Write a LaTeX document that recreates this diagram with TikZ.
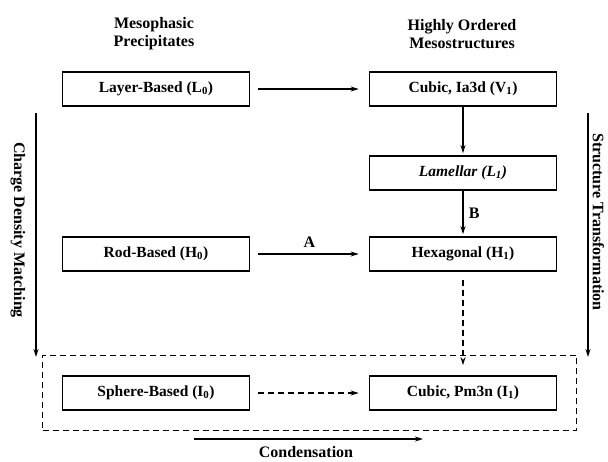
\documentclass[tikz,border=0pt]{standalone}
\usepackage{fontspec}
\setmainfont{Liberation Serif}
\usetikzlibrary{arrows.meta, positioning, fit}

\begin{document}
\begin{tikzpicture}[x=1pt, y=-1pt,
  phase/.style={draw, line width=1.6pt, minimum width=187pt, minimum height=34pt,
                inner sep=2pt, font=\fontsize{15.5}{17}\selectfont\bfseries},
  hdr/.style={align=center, font=\fontsize{16}{18}\selectfont\bfseries},
  side/.style={rotate=-90, inner sep=0pt, font=\fontsize{16}{18}\selectfont\bfseries},
  conn/.style={-{Stealth[length=8pt, width=5pt]}, line width=1.3pt},
  dconn/.style={conn, dash pattern=on 6pt off 4pt},
  lbl/.style={font=\fontsize{16}{18}\selectfont\bfseries},
]
  \useasboundingbox (0,0) rectangle (608,462);

  % column headers
  \node[hdr] (lefthd)  at (154,34) {Mesophasic\\Precipitates};
  \node[hdr] (righthd) at (462,34) {Highly Ordered\\Mesostructures};

  % phases
  \node[phase] (layer)  at (156,89)  {Layer-Based (L\textsubscript{0})};
  \node[phase] (ia3d)   at (463,89)  {Cubic, Ia3d (V\textsubscript{1})};
  \node[phase] (lam)    at (463,173) {\itshape Lamellar (L\textsubscript{1})};
  \node[phase] (rod)    at (156,254) {Rod-Based (H\textsubscript{0})};
  \node[phase] (hex)    at (463,254) {Hexagonal (H\textsubscript{1})};
  \node[phase] (sphere) at (156,393) {Sphere-Based (I\textsubscript{0})};
  \node[phase] (pm3n)   at (463,393) {Cubic, Pm3n (I\textsubscript{1})};

  \node[draw, line width=1.3pt, dash pattern=on 6pt off 4pt, fit=(sphere)(pm3n),
        inner xsep=19pt, inner ysep=20pt] (grp) {};

  % side arrows
  \coordinate (cdtop) at (36,113);
  \coordinate (cdbot) at (36,357);
  \coordinate (sttop) at (588,113);
  \coordinate (stbot) at (588,357);
  \draw[conn] (cdtop) -- (cdbot);
  \draw[conn] (sttop) -- (stbot);
  \node[side] (cdlbl) at (18,230)    {Charge Density Matching};
  \node[side] (stlbl) at (598.5,222) {Structure Transformation};

  % transformations
  \draw[conn, shorten <=8pt, shorten >=10pt] (layer) -- (ia3d);
  \draw[conn, shorten >=2pt] (ia3d) -- (lam);
  \draw[conn, shorten >=2pt] (lam) -- node[lbl, right=2pt] (blbl) {B} (hex);
  \draw[conn, shorten <=8pt, shorten >=10pt] (rod) -- node[lbl, above=3pt] (albl) {A} (hex);
  \draw[dconn, shorten <=8pt, shorten >=10pt] (hex) -- (pm3n);
  \draw[dconn, shorten <=8pt, shorten >=10pt] (sphere) -- (pm3n);

  % condensation
  \coordinate (cnleft)  at (194,439);
  \coordinate (cnright) at (423,439);
  \draw[conn] (cnleft) -- (cnright);
  \node[lbl] (cnlbl) at (306,452) {Condensation};
\end{tikzpicture}
\end{document}
